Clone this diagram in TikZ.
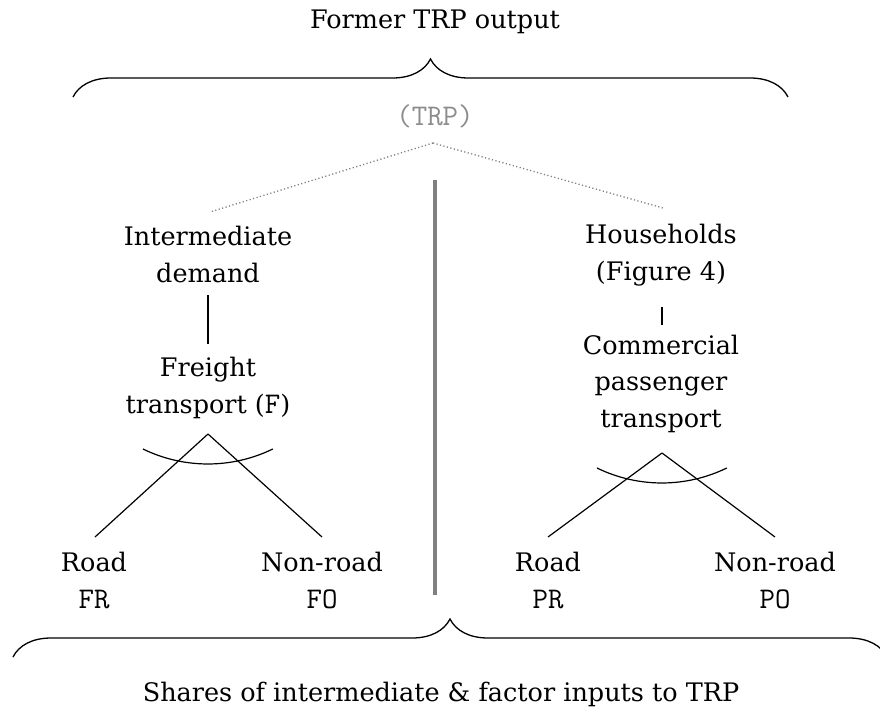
\documentclass[tikz,border=0pt]{standalone}
\usepackage{fontspec}
\setmainfont{DejaVu Serif}
\usetikzlibrary{decorations.pathreplacing}
\newcommand{\monotxt}[1]{{\fontsize{30}{36.5}\selectfont\ttfamily #1}}
\begin{document}
\begin{tikzpicture}[x=1pt,y=1pt,
  lbl/.style={font=\fontsize{25.5}{36.5}\selectfont, align=center, inner sep=0pt, anchor=base},
  edge/.style={line width=1.2pt},
  dots/.style={dash pattern=on 1.2pt off 2.4pt, black!50, line width=1.3pt},
  divider/.style={line width=4pt, black!50},
  bracestyle/.style={decorate, decoration={brace, amplitude=38pt}, line width=1.3pt}]
\useasboundingbox (0,0) rectangle (880,-712);
% titles
\node[lbl] (title) at (435,-28) {Former TRP output};
\node[lbl] (bottom) at (441,-701) {Shares of intermediate \& factor inputs to TRP};
% braces
\coordinate (tbl) at (73,-97);
\coordinate (tbr) at (788,-97);
\draw[bracestyle] (tbl) -- (tbr);
\coordinate (bbl) at (13,-657);
\coordinate (bbr) at (887,-657);
\draw[bracestyle] (bbl) -- (bbr);
% TRP
\node[lbl, text=black!45] (trp) at (435,-125) {\monotxt{(TRP)}};
\coordinate (top) at (433,-143);
\coordinate (ltop) at (210,-212);
\coordinate (rtop) at (663,-208);
\draw[dots] (top) -- (ltop);
\draw[dots] (top) -- (rtop);
% divider
\coordinate (dva) at (435,-180);
\coordinate (dvb) at (435,-595);
\draw[divider] (dva) -- (dvb);
% left branch
\node[lbl] (inter) at (208,-282) {Intermediate\\demand};
\node[lbl] (freight) at (208,-413) {Freight\\transport (\monotxt{F})};
\coordinate (la) at (208,-295);
\coordinate (lb) at (208,-344);
\draw[edge] (la) -- (lb);
\coordinate (apexF) at (208,-434);
\node[lbl] (roadF) at (94,-608) {Road\\\monotxt{FR}};
\node[lbl] (nonF) at (322,-608) {Non-road\\\monotxt{FO}};
\coordinate (roadFtop) at (95,-537);
\coordinate (nonFtop) at (322,-537);
\draw[edge] (apexF) -- (roadFtop);
\draw[edge] (apexF) -- (nonFtop);
\draw[edge] (143,-449) arc[start angle=244, end angle=296, radius=148];
% right branch
\node[lbl] (house) at (661,-280) {Households\\(Figure 4)};
\node[lbl] (comm) at (661,-427) {Commercial\\passenger\\transport};
\coordinate (ra) at (662,-307);
\coordinate (rb) at (662,-325);
\draw[edge] (ra) -- (rb);
\coordinate (apexP) at (662,-453);
\node[lbl] (roadP) at (548,-608) {Road\\\monotxt{PR}};
\node[lbl] (nonP) at (775,-608) {Non-road\\\monotxt{PO}};
\coordinate (roadPtop) at (548,-537);
\coordinate (nonPtop) at (775,-537);
\draw[edge] (apexP) -- (roadPtop);
\draw[edge] (apexP) -- (nonPtop);
\draw[edge] (597,-468) arc[start angle=244, end angle=296, radius=148];
\end{tikzpicture}
\end{document}
